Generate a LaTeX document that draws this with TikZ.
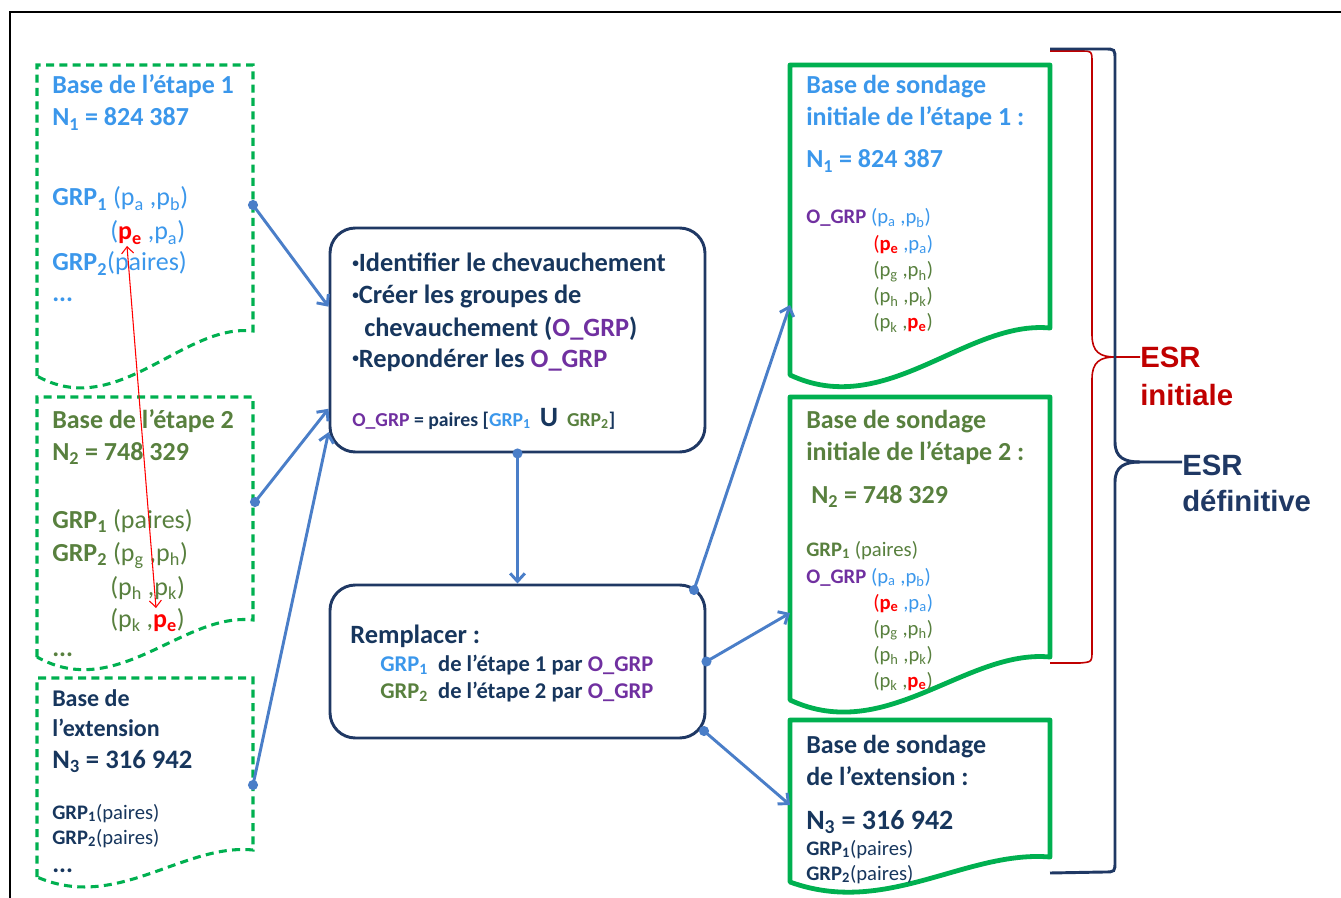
\documentclass[tikz,border=0pt]{standalone}
\usepackage{fontspec}
\setmainfont{Carlito}
\newfontfamily\esrfont{Liberation Sans}
\usetikzlibrary{arrows.meta,positioning}

\definecolor{stepblue}{RGB}{59,151,235}
\definecolor{stepgreen}{RGB}{88,128,62}
\definecolor{navytext}{RGB}{23,54,93}
\definecolor{ogrpcol}{RGB}{112,48,160}
\definecolor{docgreen}{RGB}{0,176,80}
\definecolor{linkblue}{RGB}{74,126,200}
\definecolor{boxnavy}{RGB}{31,56,100}
\definecolor{esrred}{RGB}{192,0,0}
\definecolor{pered}{RGB}{255,0,0}

\newcommand\sub[1]{\textsubscript{#1}}
\newcommand\pe{\textcolor{pered}{\textbf{p\sub{e}}}}
\newcommand\ogrp{\textcolor{ogrpcol}{\textbf{O\_GRP}}}
\newcommand\bul{\raisebox{0.32ex}{\fontsize{10}{10}\selectfont•}}

\begin{document}
\begin{tikzpicture}[x=0.75pt,y=-0.75pt,
  lbl/.style={anchor=base west,inner sep=0pt},
  txtbig/.style={font=\fontsize{19.5}{24}\selectfont},
  txtproc/.style={font=\fontsize{19.8}{24}\selectfont\bfseries,text=navytext},
  txtsmall/.style={font=\fontsize{15.5}{19.5}\selectfont},
  dashdoc/.style={draw=docgreen,line width=2.3pt,dash pattern=on 6pt off 4pt},
  fulldoc/.style={draw=docgreen,line width=3.6pt,line join=round},
  procbox/.style={draw=boxnavy,line width=2.2pt,rounded corners=19pt,inner sep=0pt},
  link/.style={linkblue,line width=2.2pt,-{Straight Barb[length=6pt,width=11pt]}},
  esrlbl/.style={anchor=base west,inner sep=0pt,font=\esrfont\bfseries\fontsize{22}{26}\selectfont}]
  \useasboundingbox (0,0) rectangle (1341,898);
  \draw[line width=1.2pt] (10,898) -- (10,12) -- (1341,12);

  % source frames
  \draw[dashdoc] (37,376) -- (37,65) -- (253,65) -- (253,331)
    .. controls (183,323) and (117,421) .. (37,376) -- cycle;
  \draw[dashdoc] (37,657) -- (37,397) -- (253,397) -- (253,620)
    .. controls (183,612) and (117,702) .. (37,657) -- cycle;
  \draw[dashdoc] (37,877) -- (37,678) -- (253,678) -- (253,850)
    .. controls (183,843) and (117,912) .. (37,877) -- cycle;

  \node[lbl,txtbig,text=stepblue] (L1a) at (52,94) {\bfseries Base de l’étape 1};
  \node[lbl,txtbig,text=stepblue] (L1b) at (52,126) {\bfseries N\sub1 = 824 387};
  \node[lbl,txtbig,text=stepblue] (L1c) at (52,206) {\textbf{GRP\sub1} (p\sub a ,p\sub b)};
  \node[lbl,txtbig,text=stepblue] (L1d) at (110,240) {(\pe{} ,p\sub a)};
  \node[lbl,txtbig,text=stepblue] (L1e) at (52,271) {\textbf{GRP\sub2}(paires)};
  \node[lbl,txtbig,text=stepblue] (L1f) at (52,302) {\textbf{...}};

  \node[lbl,txtbig,text=stepgreen] (L2a) at (52,428) {\bfseries Base de l’étape 2};
  \node[lbl,txtbig,text=stepgreen] (L2b) at (52,460) {\bfseries N\sub2 = 748 329};
  \node[lbl,txtbig,text=stepgreen] (L2c) at (52,528) {\textbf{GRP\sub1} (paires)};
  \node[lbl,txtbig,text=stepgreen] (L2d) at (52,561) {\textbf{GRP\sub2} (p\sub g ,p\sub h)};
  \node[lbl,txtbig,text=stepgreen] (L2e) at (110,595) {(p\sub h ,p\sub k)};
  \node[lbl,txtbig,text=stepgreen] (L2f) at (110,627) {(p\sub k ,\pe)};
  \node[lbl,txtbig,text=stepgreen] (L2g) at (52,656) {\textbf{...}};

  \node[lbl,font=\fontsize{18}{22}\selectfont\bfseries,text=navytext] (L3a) at (52,706) {Base de};
  \node[lbl,font=\fontsize{18}{22}\selectfont\bfseries,text=navytext] (L3b) at (52,736) {l’extension};
  \node[lbl,font=\fontsize{20}{24}\selectfont\bfseries,text=navytext] (L3c) at (52,768) {N\sub3 = 316 942};
  \node[lbl,txtsmall,text=navytext] (L3d) at (52,819) {\textbf{GRP\sub1}(paires)};
  \node[lbl,txtsmall,text=navytext] (L3e) at (52,844) {\textbf{GRP\sub2}(paires)};
  \node[lbl,txtbig,text=navytext] (L3f) at (52,872) {\textbf{...}};

  % red link between the two p_e
  \coordinate (pe1) at (127,246);
  \coordinate (pe2) at (156,608);
  \draw[pered,line width=0.8pt,{Straight Barb[length=5pt,width=9pt]}-{Straight Barb[length=5pt,width=9pt]}] (pe1) -- (pe2);

  % treatment boxes
  \node[procbox,minimum width=281.25pt,minimum height=168pt] (C1) at (517.5,340) {};
  \node[procbox,minimum width=281.25pt,minimum height=114.75pt] (C2) at (517.5,661.5) {};

  \node[lbl,txtproc] (C1a) at (352,272) {\bul Identifier le chevauchement};
  \node[lbl,txtproc] (C1b) at (352,304) {\bul Créer les groupes de};
  \node[lbl,txtproc] (C1c) at (364,336) {chevauchement (\textcolor{ogrpcol}{O\_GRP})};
  \node[lbl,txtproc] (C1d) at (352,367) {\bul Repondérer les \textcolor{ogrpcol}{O\_GRP}};
  \node[lbl,font=\fontsize{14.8}{18}\selectfont\bfseries,text=navytext] (C1e) at (352,426)
    {\textcolor{ogrpcol}{O\_GRP} = paires [\textcolor{stepblue}{GRP\sub1} \ {\fontsize{21}{24}\selectfont U} \ \textcolor{stepgreen}{GRP\sub2}]};

  \node[lbl,txtproc] (C2a) at (350,643) {Remplacer :};
  \node[lbl,font=\fontsize{16.9}{20}\selectfont\bfseries,text=navytext] (C2b) at (380,671)
    {\textcolor{stepblue}{GRP\sub1} \ de l’étape 1 par \textcolor{ogrpcol}{O\_GRP}};
  \node[lbl,font=\fontsize{16.9}{20}\selectfont\bfseries,text=navytext] (C2c) at (380,698)
    {\textcolor{stepgreen}{GRP\sub2} \ de l’étape 2 par \textcolor{ogrpcol}{O\_GRP}};

  % final frames
  \draw[fulldoc] (790,375) -- (790,65) -- (1050,65) -- (1050,328)
    .. controls (966,320) and (886,420) .. (790,375) -- cycle;
  \draw[fulldoc] (790,700) -- (790,397) -- (1050,397) -- (1050,657)
    .. controls (966,649) and (886,745) .. (790,700) -- cycle;
  \draw[fulldoc] (790,882) -- (790,720) -- (1050,720) -- (1050,857)
    .. controls (966,850) and (886,917) .. (790,882) -- cycle;

  \node[lbl,txtbig,text=stepblue] (R1a) at (806,94) {\bfseries Base de sondage};
  \node[lbl,txtbig,text=stepblue] (R1b) at (806,126) {\bfseries initiale de l’étape 1 :};
  \node[lbl,txtbig,text=stepblue] (R1c) at (806,168) {\bfseries N\sub1 = 824 387};
  \node[lbl,txtsmall,text=stepblue] (R1d) at (806,224) {\ogrp{} (p\sub a ,p\sub b)};
  \node[lbl,txtsmall,text=stepblue] (R1e) at (873,251) {\textcolor{pered}{(}\pe{} ,p\sub a)};
  \node[lbl,txtsmall,text=stepgreen] (R1f) at (873,277) {(p\sub g ,p\sub h)};
  \node[lbl,txtsmall,text=stepgreen] (R1g) at (873,303) {(p\sub h ,p\sub k)};
  \node[lbl,txtsmall,text=stepgreen] (R1h) at (873,329) {(p\sub k ,\pe)};

  \node[lbl,txtbig,text=stepgreen] (R2a) at (806,428) {\bfseries Base de sondage};
  \node[lbl,txtbig,text=stepgreen] (R2b) at (806,460) {\bfseries initiale de l’étape 2 :};
  \node[lbl,txtbig,text=stepgreen] (R2c) at (811,503) {\bfseries N\sub2 = 748 329};
  \node[lbl,txtsmall,text=stepgreen] (R2d) at (806,556) {\textbf{GRP\sub1} (paires)};
  \node[lbl,txtsmall,text=stepblue] (R2e) at (806,583) {\ogrp{} (p\sub a ,p\sub b)};
  \node[lbl,txtsmall,text=stepblue] (R2f) at (873,609) {\textcolor{pered}{(}\pe{} ,p\sub a)};
  \node[lbl,txtsmall,text=stepgreen] (R2g) at (873,635) {(p\sub g ,p\sub h)};
  \node[lbl,txtsmall,text=stepgreen] (R2h) at (873,661) {(p\sub h ,p\sub k)};
  \node[lbl,txtsmall,text=stepgreen] (R2i) at (873,687) {(p\sub k ,\pe)};

  \node[lbl,txtbig,text=navytext] (R3a) at (806,753) {\bfseries Base de sondage};
  \node[lbl,txtbig,text=navytext] (R3b) at (806,785) {\bfseries de l’extension :};
  \node[lbl,font=\fontsize{21}{25}\selectfont\bfseries,text=navytext] (R3c) at (806,829) {N\sub3 = 316 942};
  \node[lbl,txtsmall,text=navytext] (R3d) at (806,855) {\textbf{GRP\sub1}(paires)};
  \node[lbl,txtsmall,text=navytext] (R3e) at (806,880) {\textbf{GRP\sub2}(paires)};

  % connectors
  \coordinate (L1out) at (253,205);
  \coordinate (L2out) at (255,502);
  \coordinate (L3out) at (253,785);
  \coordinate (C2o1) at (694,590);
  \coordinate (C2o3) at (704,731);
  \coordinate (R1in) at (790,305);
  \coordinate (R2in) at (790,613);
  \coordinate (R3in) at (790,805);
  \draw[link] (L1out) -- (C1.170);
  \draw[link] (L2out) -- (C1.200);
  \draw[link] (L3out) -- (C1.206);
  \draw[link] (C1.south) -- (C2.north);
  \draw[link] (C2o1) -- (R1in);
  \draw[link] (C2.east) -- (R2in);
  \draw[link] (C2o3) -- (R3in);
  \foreach \p in {L1out,L2out,L3out,C1.south,C2o1,C2.east,C2o3}
    \fill[linkblue] (\p) circle (3.8pt);

  % braces
  \node[esrlbl,text=esrred] (E1a) at (1140,367) {ESR};
  \node[esrlbl,text=esrred] (E1b) at (1140,405) {initiale};
  \node[esrlbl,text=boxnavy] (E2a) at (1182,475) {ESR};
  \node[esrlbl,text=boxnavy] (E2b) at (1182,511) {définitive};
  \draw[esrred,line width=1.2pt] (1050,51) -- (1080,51) .. controls (1092,51) .. (1092,63)
    -- (1092,335) .. controls (1092,352) and (1100,357) .. (1115,357) -- (E1a.west |- 1115,357);
  \draw[esrred,line width=1.2pt] (1115,357) .. controls (1100,357) and (1092,362) .. (1092,379)
    -- (1092,650) .. controls (1092,662) .. (1080,663) -- (1050,663);
  \draw[boxnavy,line width=2.2pt] (1050,49) -- (1104,49) .. controls (1115,49) .. (1115,60)
    -- (1115,442) .. controls (1115,458) and (1125,462) .. (1140,462) -- (E2a.west |- 1140,462);
  \draw[boxnavy,line width=2.2pt] (1140,462) .. controls (1125,462) and (1115,466) .. (1115,482)
    -- (1115,861) .. controls (1115,872) .. (1104,872) -- (1050,873);
\end{tikzpicture}
\end{document}
